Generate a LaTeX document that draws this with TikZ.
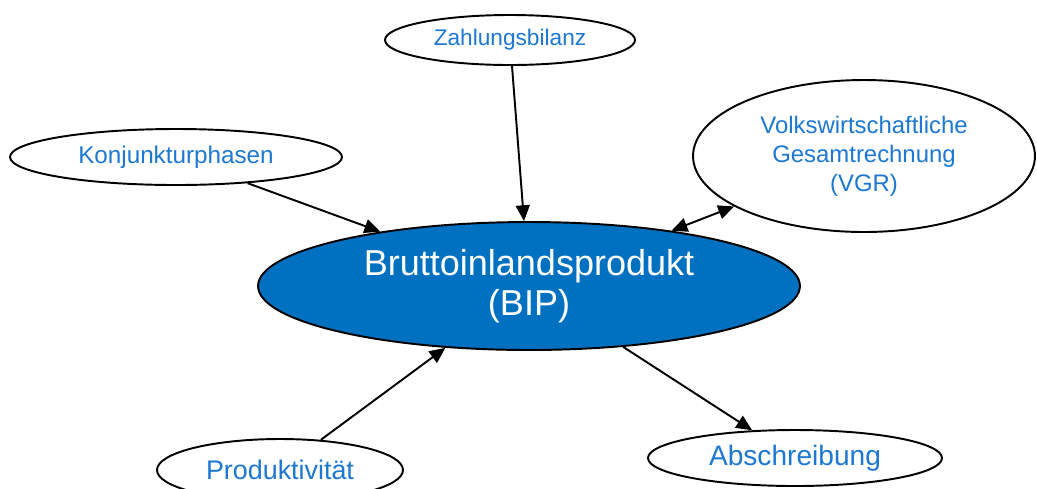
\documentclass[tikz,border=0pt]{standalone}
\usepackage{fontspec}
\setmainfont{Liberation Sans}
\usetikzlibrary{shapes.geometric,arrows.meta}
\definecolor{bipblau}{HTML}{0070C0}
\definecolor{textblau}{HTML}{1C78D2}
\tikzset{
	begriff/.style={ellipse,draw,line width=1.1pt,fill=white,
		inner sep=0pt,text=textblau,align=center},
	pfeil/.style={line width=1.1pt,-{Triangle[length=9pt,width=8pt]}},
	doppelpfeil/.style={line width=1.1pt,
		{Triangle[length=9pt,width=8pt]}-{Triangle[length=9pt,width=8pt]}}
}
\begin{document}
\begin{tikzpicture}[x=0.02cm,y=-0.02cm]
					\useasboundingbox (0,0) rectangle (1037,488);
					\fill[white] (0,0) rectangle (1037,488);
					\path (529,286) node[begriff,fill=bipblau,text=white,
					minimum width=10.84cm,minimum height=2.56cm,
					font=\fontsize{20.5}{22.8}\selectfont](bip)
					{Bruttoinlandsprodukt\\(BIP)};
					\foreach \x/\y/\b/\h/\fs/\name/\texn in {
						510/40/250/50/12.9/zahl/Zahlungsbilanz,
						176/157/332/56/13.8/konj/Konjunkturphasen,
						280/470/246/62/15.3/prod/Produktivität,
						795/458/294/56/16/abschr/Abschreibung}
					\path (\x,\y) node[begriff,minimum width=\b*0.02cm,
					minimum height=\h*0.02cm,font=\fontsize{\fs}{\fs}\selectfont]
					(\name){\texn};
					\path (864,156) node[begriff,minimum width=6.84cm,
					minimum height=3.04cm,font=\fontsize{13.6}{16.5}\selectfont]
					(vgr){Volkswirtschaftliche\\Gesamtrechnung\\(VGR)};
					\draw[pfeil] (zahl)--(bip);
					\draw[pfeil] (konj)--(bip);
					\draw[pfeil] (prod)--(bip);
					\draw[pfeil] (bip)--(abschr);
					\draw[doppelpfeil] (vgr)--(bip);
					\end{tikzpicture}
\end{document}
